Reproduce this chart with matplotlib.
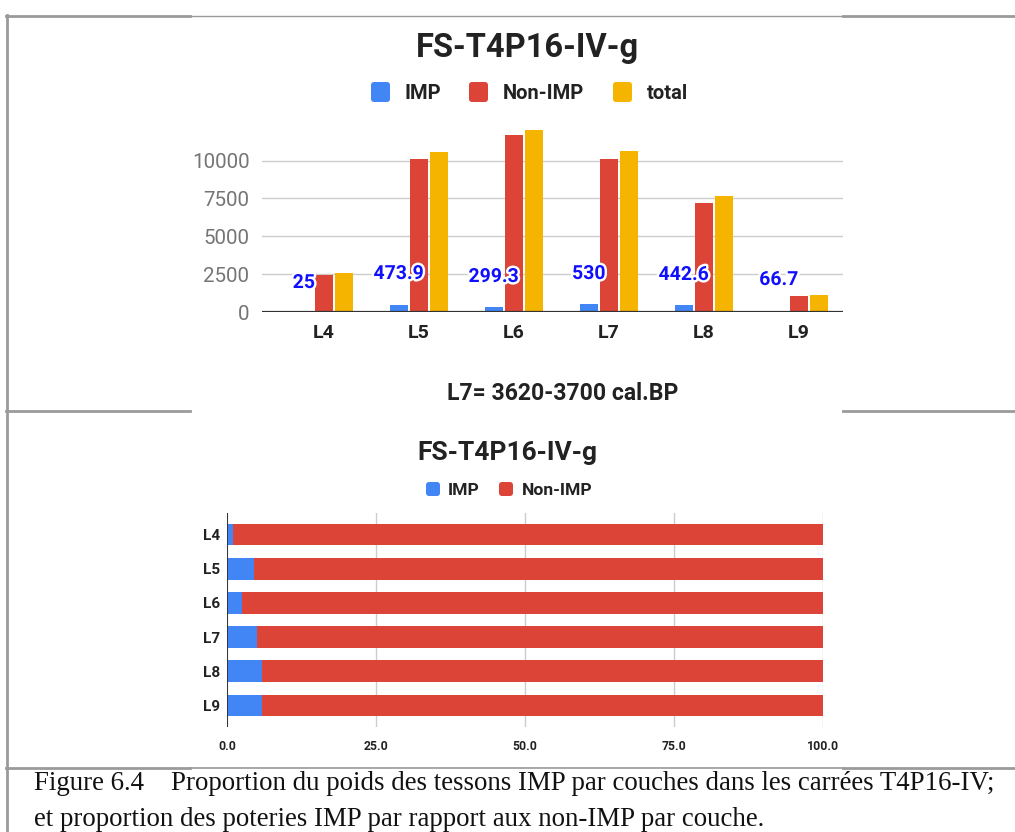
import matplotlib
matplotlib.use("Agg")
import matplotlib.pyplot as plt
from matplotlib.patches import FancyBboxPatch
from matplotlib.lines import Line2D
import matplotlib.patheffects as pe
import numpy as np

# ---------------- data ----------------
layers = ["L4", "L5", "L6", "L7", "L8", "L9"]
imp = [25, 473.9, 299.3, 530, 442.6, 66.7]
non_imp = [2470, 10100, 11720, 10130, 7200, 1060]
total = [2580, 10574, 12019, 10660, 7643, 1127]
y_ticks = [0, 2500, 5000, 7500, 10000]
pct_ticks = [0.0, 25.0, 50.0, 75.0, 100.0]

title = "FS-T4P16-IV-g"
subtitle = "L7= 3620-3700 cal.BP"
caption1 = "Figure 6.4    Proportion du poids des tessons IMP par couches dans les carrées T4P16-IV;"
caption2 = "et proportion des poteries IMP par rapport aux non-IMP par couche."

# ---------------- layout ----------------
W, H = 1015, 832
BLUE, RED, YELLOW = "#4285F4", "#DB4437", "#F4B400"
FRAME = "#9a9a9a"
label_y = [1915, 2510, 2311, 2510, 2444, 2114]  # annotation heights (layout)

plt.rcParams["font.family"] = ["Roboto", "DejaVu Sans"]
fig = plt.figure(figsize=(W / 100, H / 100), dpi=100)


def rect(left, top, right, bottom):
    return [left / W, 1 - bottom / H, (right - left) / W, (bottom - top) / H]


def ftext(x, y, s, **kw):
    fig.text(x / W, 1 - y / H, s, **kw)


def hline(x0, x1, y, lw, color=FRAME):
    fig.add_artist(Line2D([x0 / W, x1 / W], [1 - y / H, 1 - y / H],
                          transform=fig.transFigure, lw=lw, color=color))


def marker(x0, y0, w, h, color):
    fig.add_artist(FancyBboxPatch(((x0) / 100, (H - y0 - h) / 100), w / 100, h / 100,
                                  boxstyle="round,pad=0,rounding_size=0.03",
                                  transform=fig.dpi_scale_trans, fc=color, ec="none"))


# ---------------- frame lines ----------------
hline(6, 190, 15.5, 2.0)
hline(190, 843, 15.5, 1.0)
hline(843, 1015, 15.5, 2.0)
hline(6, 190, 411, 2.0)
hline(843, 1015, 411, 2.0)
hline(6, 190, 767.5, 2.0)
hline(190, 843, 767.5, 1.2)
hline(843, 1015, 767.5, 2.0)
fig.add_artist(Line2D([7 / W, 7 / W], [1 - 15 / H, 0], transform=fig.transFigure,
                      lw=2.0, color=FRAME))

# ---------------- top chart ----------------
ax = fig.add_axes(rect(262, 125.8, 843, 312))
x = np.arange(len(layers))
bw = 0.195
ax.bar(x - 0.213, imp, bw, color=BLUE, zorder=3)
ax.bar(x, non_imp, bw, color=RED, zorder=3)
ax.bar(x + 0.21, total, bw, color=YELLOW, zorder=3)
ax.set_xlim(-0.653, 5.463)
ax.set_ylim(0, 12300)
ax.set_yticks(y_ticks)
ax.set_yticklabels([f"{t}" for t in y_ticks])
ax.set_xticks(x)
ax.set_xticklabels(layers)
ax.yaxis.grid(True, color="#cccccc", lw=1.0, zorder=0)
ax.axhline(0, color="#333333", lw=1.6, zorder=4)
for s in ax.spines.values():
    s.set_visible(False)
ax.tick_params(axis="y", length=0, pad=9, labelsize=14.8, labelcolor="#757575")
ax.tick_params(axis="x", length=0, pad=9, labelsize=14)
for lab in ax.get_xticklabels():
    lab.set_fontweight("bold")
    lab.set_color("#222222")
for i, v in enumerate(imp):
    ax.text(x[i] - 0.213, label_y[i], f"{v:g}", ha="center", va="center",
            color="#1010ff", fontsize=14, fontweight="bold", zorder=6,
            path_effects=[pe.withStroke(linewidth=3.5, foreground="white")])

ftext(527, 57, title, ha="center", va="baseline", fontsize=23.5, fontweight="bold", color="#222222")
for (mx, tx, lab, col) in [(371, 405, "IMP", BLUE), (469, 503, "Non-IMP", RED), (613, 647, "total", YELLOW)]:
    marker(mx, 82, 19, 20, col)
    ftext(tx, 99, lab, ha="left", va="baseline", fontsize=14.5, fontweight="bold", color="#222222")
ftext(563, 400, subtitle, ha="center", va="baseline", fontsize=16.6, fontweight="bold", color="#222222")

# ---------------- bottom chart ----------------
imp_pct = [100 * a / (a + b) for a, b in zip(imp, non_imp)]
non_pct = [100 - p for p in imp_pct]
ax2 = fig.add_axes(rect(227, 513, 823, 727))
y = np.arange(len(layers))
ax2.barh(y, imp_pct, 0.64, color=BLUE, zorder=3)
ax2.barh(y, non_pct, 0.64, left=imp_pct, color=RED, zorder=3)
ax2.set_ylim(5.63, -0.63)
ax2.set_xlim(0, 100)
ax2.set_yticks(y)
ax2.set_yticklabels(layers)
ax2.set_xticks(pct_ticks)
ax2.set_xticklabels([f"{t:.1f}" for t in pct_ticks])
ax2.xaxis.grid(True, color="#cccccc", lw=1.0, zorder=0)
for s in ax2.spines.values():
    s.set_visible(False)
ax2.axvline(0, color="#333333", lw=1.4, zorder=4)
ax2.tick_params(axis="y", length=0, pad=5, labelsize=11)
ax2.tick_params(axis="x", length=0, pad=9, labelsize=8.8)
for lab in ax2.get_yticklabels() + ax2.get_xticklabels():
    lab.set_fontweight("bold")
    lab.set_color("#222222")

ftext(507.5, 460, title, ha="center", va="baseline", fontsize=19, fontweight="bold", color="#222222")
for (mx, tx, lab, col) in [(426, 448, "IMP", BLUE), (499, 522, "Non-IMP", RED)]:
    marker(mx, 482, 14, 14, col)
    ftext(tx, 495, lab, ha="left", va="baseline", fontsize=12.6, fontweight="bold", color="#222222")

# ---------------- caption ----------------
ftext(34, 790, caption1, ha="left", va="baseline", fontsize=19.4,
      family="Liberation Serif", color="#111111")
ftext(34, 826, caption2, ha="left", va="baseline", fontsize=19.4,
      family="Liberation Serif", color="#111111")

fig.savefig("out.png", dpi=100, facecolor="white")
